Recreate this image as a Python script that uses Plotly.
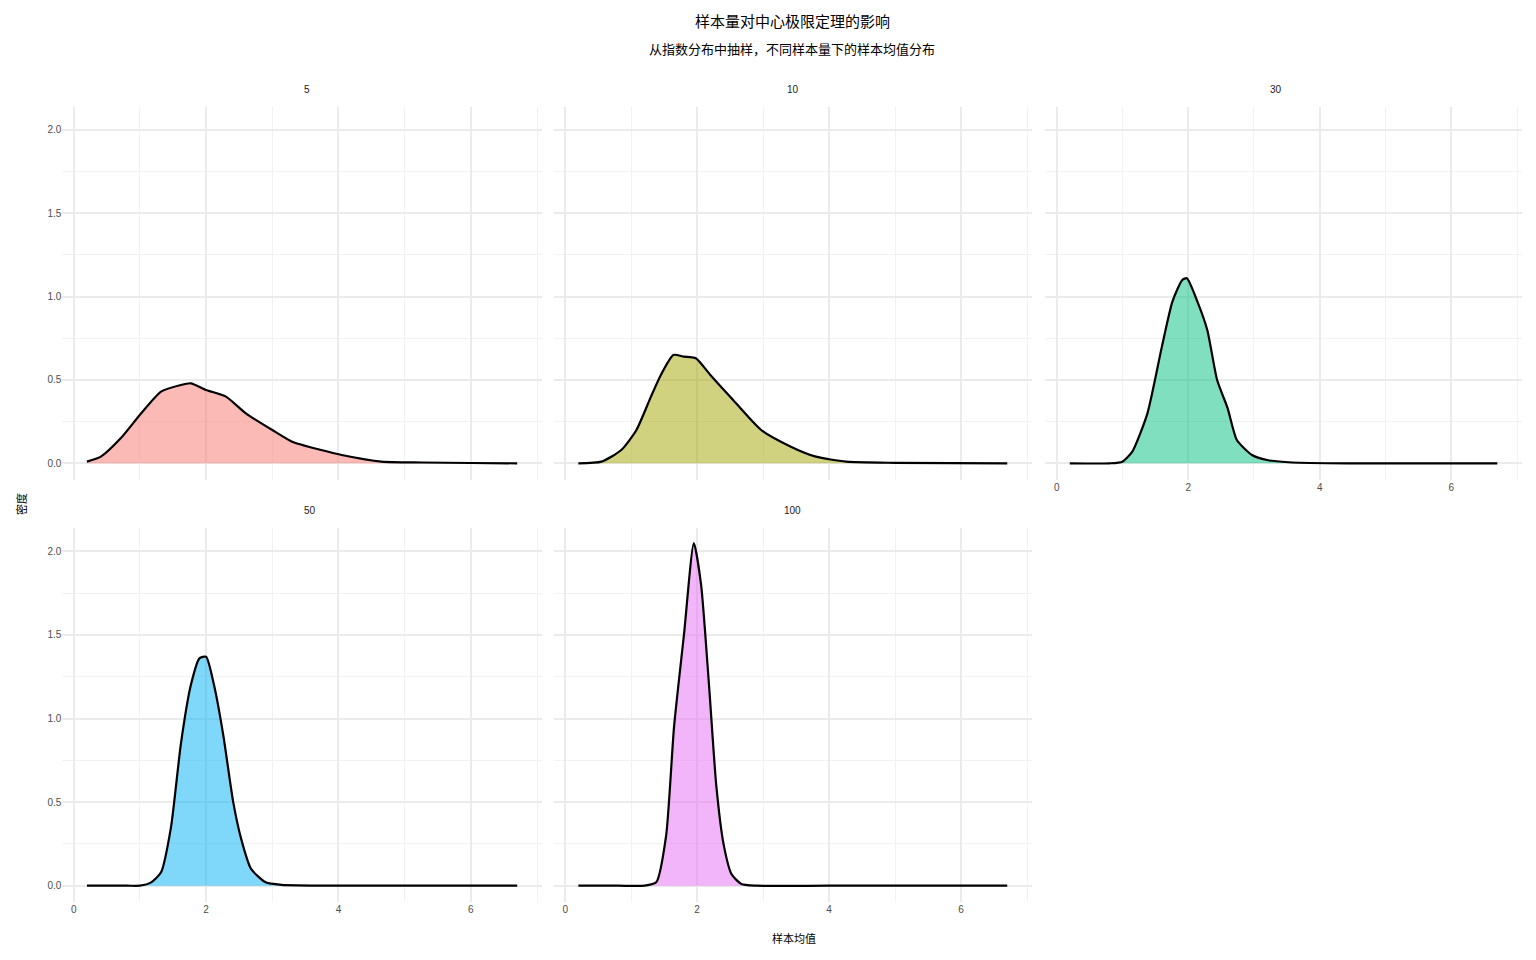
import plotly.graph_objects as go

panels = ["5", "10", "30", "50", "100"]
colors = ["rgba(248,118,109,0.5)", "rgba(163,165,0,0.5)", "rgba(0,191,125,0.5)",
          "rgba(0,176,246,0.5)", "rgba(231,107,243,0.5)"]

x5 = [0.2, 0.41, 0.71, 1.02, 1.32, 1.62, 1.77, 2.0, 2.3, 2.6, 3.0, 3.3, 3.74, 4.05, 4.65, 5.26, 6.0, 6.7]
y5 = [0.01, 0.04, 0.15, 0.30, 0.43, 0.47, 0.48, 0.44, 0.40, 0.30, 0.20, 0.13, 0.08, 0.05, 0.01, 0.005, 0.002, 0.0]
x10 = [0.2, 0.55, 0.85, 1.08, 1.3, 1.45, 1.64, 1.8, 1.98, 2.2, 2.5, 2.97, 3.42, 3.8, 4.26, 5.0, 6.7]
y10 = [0.0, 0.01, 0.08, 0.20, 0.40, 0.53, 0.65, 0.64, 0.63, 0.53, 0.40, 0.20, 0.10, 0.04, 0.01, 0.003, 0.0]
x30 = [0.2, 0.8, 1.0, 1.15, 1.38, 1.6, 1.76, 1.91, 1.98, 2.14, 2.29, 2.44, 2.6, 2.74, 2.97, 3.2, 3.58, 4.5, 6.7]
y30 = [0.0, 0.0, 0.01, 0.07, 0.30, 0.70, 0.97, 1.10, 1.11, 0.97, 0.80, 0.50, 0.33, 0.14, 0.05, 0.02, 0.005, 0.0, 0.0]
x50 = [0.2, 0.8, 1.0, 1.17, 1.32, 1.47, 1.62, 1.77, 1.9, 2.0, 2.12, 2.26, 2.41, 2.53, 2.68, 2.9, 3.14, 4.0, 6.7]
y50 = [0.0, 0.0, 0.0, 0.02, 0.08, 0.35, 0.85, 1.20, 1.36, 1.37, 1.20, 0.90, 0.50, 0.28, 0.10, 0.02, 0.005, 0.0, 0.0]
x100 = [0.2, 0.8, 1.2, 1.38, 1.53, 1.65, 1.8, 1.95, 2.06, 2.18, 2.29, 2.4, 2.52, 2.67, 2.9, 4.0, 6.7]
y100 = [0.0, 0.0, 0.0, 0.02, 0.30, 0.95, 1.50, 2.05, 1.80, 1.20, 0.60, 0.25, 0.07, 0.01, 0.0, 0.0, 0.0]

xs = [x5, x10, x30, x50, x100]
ys = [y5, y10, y30, y50, y100]

dx = -7 / 1536
dy = 8 / 960
xdom = [[0.040 + dx, 0.352 + dx], [0.360 + dx, 0.671 + dx], [0.680 + dx, 0.990 + dx]]
ydom = [[0.500 + dy, 0.889 + dy], [0.060 + dy, 0.450 + dy]]

fig = go.Figure()
font = "Noto Sans CJK SC, DejaVu Sans, sans-serif"
tickf = dict(size=10, color="#4D4D4D", family="Liberation Sans, Arial, sans-serif")
for i in range(5):
    r, c = divmod(i, 3)
    n = i + 1
    xa = "x" if n == 1 else f"x{n}"
    ya = "y" if n == 1 else f"y{n}"
    fig.add_trace(go.Scatter(x=xs[i], y=ys[i], xaxis=xa, yaxis=ya, mode="lines",
                             line=dict(color="black", width=2.2, shape="spline", smoothing=0.6),
                             fill="tozeroy", fillcolor=colors[i], showlegend=False))
    showx = (r == 1) or (i == 2)
    fig.layout[f"xaxis{'' if n == 1 else n}"] = dict(
        domain=xdom[c], anchor=ya, range=[-0.17, 7.07], tickvals=[0, 2, 4, 6],
        showticklabels=showx, gridcolor="#EBEBEB", gridwidth=2, zeroline=False,
        minor=dict(tickvals=[1, 3, 5, 7], showgrid=True, gridcolor="#F2F2F2", gridwidth=1),
        tickfont=tickf, ticks="", showline=False)
    fig.layout[f"yaxis{'' if n == 1 else n}"] = dict(
        domain=ydom[r], anchor=xa, range=[-0.1, 2.14], tickvals=[0, 0.5, 1, 1.5, 2],
        ticktext=["0.0", "0.5", "1.0", "1.5", "2.0"], showticklabels=(c == 0),
        gridcolor="#EBEBEB", gridwidth=2, zeroline=False,
        minor=dict(tickvals=[0.25, 0.75, 1.25, 1.75], showgrid=True, gridcolor="#F2F2F2", gridwidth=1),
        tickfont=tickf, ticks="", showline=False)
    fig.add_annotation(text=panels[i], xref="paper", yref="paper",
                       x=(xdom[c][0] + xdom[c][1]) / 2, y=ydom[r][1] + 0.018, yanchor="middle",
                       showarrow=False, font=dict(size=10, color="#1A1A1A", family=tickf["family"]))

fig.add_annotation(text="样本量对中心极限定理的影响", xref="paper", yref="paper", x=0.515 + dx, y=0.979 + dy,
                   yanchor="middle", showarrow=False, font=dict(size=15, color="black"))
fig.add_annotation(text="从指数分布中抽样，不同样本量下的样本均值分布", xref="paper", yref="paper",
                   x=0.515 + dx, y=0.949 + dy, yanchor="middle", showarrow=False,
                   font=dict(size=13, color="black"))
fig.add_annotation(text="样本均值", xref="paper", yref="paper", x=0.516 + dx, y=0.023 + dy,
                   yanchor="middle", showarrow=False, font=dict(size=11, color="black"))
fig.add_annotation(text="密度", xref="paper", yref="paper", x=0.013 + dx, y=0.475 + dy, textangle=-90,
                   xanchor="center", yanchor="middle", showarrow=False, font=dict(size=11, color="black"))

fig.update_layout(width=1536, height=960, margin=dict(l=0, r=0, t=0, b=0),
                  plot_bgcolor="white", paper_bgcolor="white", font=dict(family=font))
fig.write_html("out.html")
